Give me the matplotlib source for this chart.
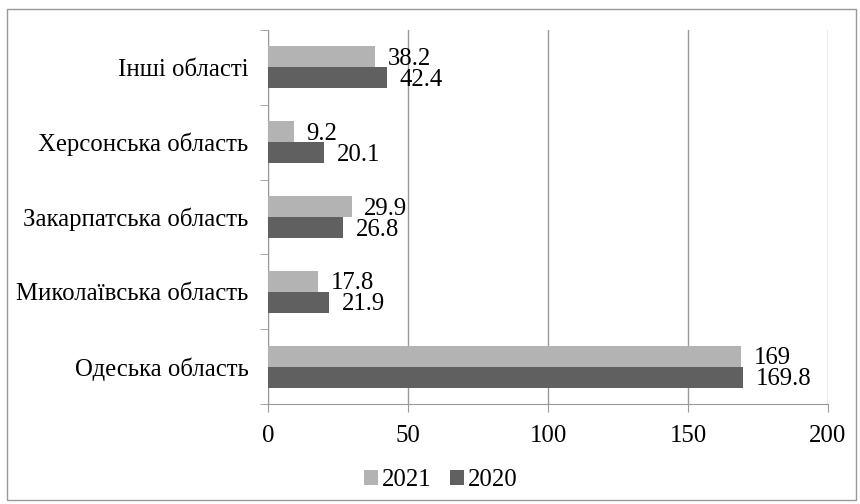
import matplotlib
matplotlib.use('Agg')
import matplotlib.pyplot as plt
import numpy as np
from matplotlib.patches import Rectangle

plt.rcParams['font.family'] = ['Liberation Serif', 'DejaVu Serif']

# дані (знизу вгору)
regions = ['Одеська область', 'Миколаївська область', 'Закарпатська область',
           'Херсонська область', 'Інші області']
v2021 = [169, 17.8, 29.9, 9.2, 38.2]
v2020 = [169.8, 21.9, 26.8, 20.1, 42.4]
xticks = [0, 50, 100, 150, 200]

c2021 = '#b3b3b3'
c2020 = '#606060'
fs = 17.8

fig = plt.figure(figsize=(8.6, 5.04), dpi=100)
ax = fig.add_axes([268/860, 1-404/504, (828-268)/860, (404-30)/504])

y = np.arange(len(regions))
h = 0.28
b1 = ax.barh(y + h/2, v2021, height=h, color=c2021, label='2021', zorder=3)
b2 = ax.barh(y - h/2, v2020, height=h, color=c2020, label='2020', zorder=3)

for bars, vals in ((b1, v2021), (b2, v2020)):
    for b, v in zip(bars, vals):
        ax.annotate(f'{v:g}', (b.get_width(), b.get_y() + b.get_height()/2),
                    xytext=(9, -1.5), textcoords='offset points',
                    ha='left', va='center', fontsize=fs)

ax.set_xlim(0, 200)
ax.set_ylim(-0.5, len(regions) - 0.5)
ax.set_xticks(xticks)
ax.set_xticklabels([str(t) for t in xticks], fontsize=fs)
ax.set_yticks(y)
ax.set_yticklabels(regions, fontsize=fs)
ax.set_yticks(np.arange(-0.5, len(regions)), minor=True)
ax.tick_params(axis='y', which='major', length=0, pad=14)
ax.tick_params(axis='y', which='minor', length=6, color='#999999', direction='out')
ax.tick_params(axis='x', length=6, color='#999999', direction='out', pad=9)
ax.grid(axis='x', color='#999999', linewidth=1, zorder=0)
for s in ('top', 'right'):
    ax.spines[s].set_visible(False)
for s in ('left', 'bottom'):
    ax.spines[s].set_color('#999999')

leg = fig.legend(handles=[b1, b2], loc='center', bbox_to_anchor=(441/860, 1-480/504),
                 ncol=2, frameon=False, fontsize=fs, handlelength=0.57,
                 handleheight=0.57, handletextpad=0.16, columnspacing=0.73,
                 borderpad=0, borderaxespad=0)

fig.patches.append(Rectangle((7/860, 1-500/504), (856-7)/860, (500-9)/504,
                             transform=fig.transFigure, fill=False,
                             edgecolor='#999999', linewidth=1))

fig.savefig('out.png', dpi=100)
